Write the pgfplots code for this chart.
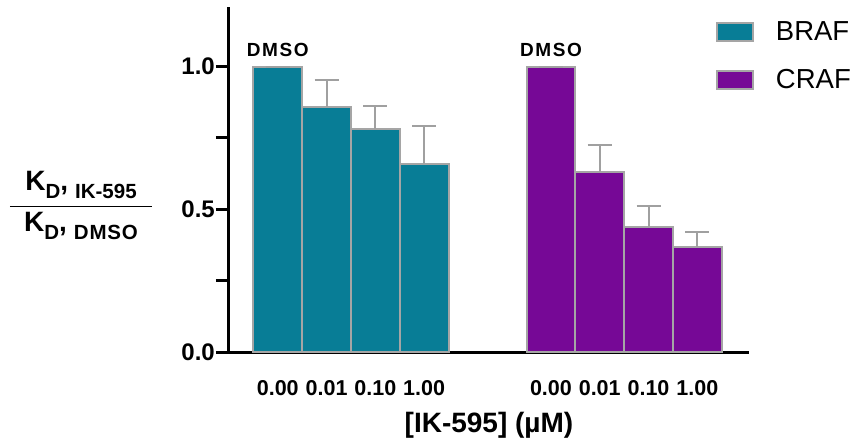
\documentclass[border=0pt]{standalone}
\usepackage{pgfplots}
\pgfplotsset{compat=1.18}
\usepackage{fontspec}
\setmainfont{Liberation Sans}
\definecolor{braf}{RGB}{8,125,150}
\definecolor{craf}{RGB}{118,8,150}
\definecolor{edgegray}{RGB}{165,165,165}
\definecolor{errgray}{RGB}{160,160,160}
\newcommand\bigf{\fontsize{28}{28}\bfseries\selectfont}
\newcommand\subf{\fontsize{20.5}{20.5}\bfseries\selectfont}
\newcommand\sub[1]{\raisebox{-8pt}[0pt][0pt]{\subf #1}}
\newcommand\numer{{\bigf K}\sub{D}{\bigf ,}\sub{\hspace{7pt}IK-595}}
\newcommand\denom{{\bigf K}\sub{D}{\bigf ,}\sub{\hspace{7pt}D\kern0.8pt M\kern0.8pt S\kern0.8pt O}}
\newcommand\dmso{{\fontsize{19}{19}\bfseries\selectfont D\kern1.6pt M\kern1.6pt S\kern1.6pt O}}
\pgfplotstableread{
x y e
0 1.00 0
1 0.86 0.092
2 0.78 0.082
3 0.66 0.133
}\brafdata
\pgfplotstableread{
x y e
5.6 1.00 0
6.6 0.63 0.095
7.6 0.437 0.076
8.6 0.367 0.053
}\crafdata
\begin{document}
\begin{tikzpicture}
\useasboundingbox (-229pt,-87pt) rectangle (624pt,352pt);
\begin{axis}[
  at={(0,0)}, anchor=south west,
  scale only axis, width=520pt, height=345pt,
  xmin=-1, xmax=9.66, ymin=0, ymax=1.209,
  axis x line*=bottom, axis y line*=left,
  axis line style={line width=3pt, black},
  ytick={0,0.5,1}, minor ytick={0.25,0.75},
  tick align=outside,
  major tick length=13pt, minor tick length=13pt,
  ytick style={line width=3pt, black},
  minor tick style={line width=3pt, black},
  xtick style={draw=none},
  yticklabel style={font=\fontsize{24}{24}\bfseries\selectfont, inner sep=1pt,
    /pgf/number format/.cd, fixed, fixed zerofill, precision=1, assume math mode=true},
  xtick={0,1,2,3,5.6,6.6,7.6,8.6},
  xticklabels={0.00,0.01,0.10,1.00,0.00,0.01,0.10,1.00},
  xticklabel style={font=\fontsize{21.5}{21.5}\bfseries\selectfont, anchor=north, inner sep=0pt, yshift=-15pt},
  xlabel={[IK-595] (µM)},
  xlabel style={font=\bigf, at={(axis description cs:0.5,0)}, anchor=base, yshift=-80pt, inner sep=0pt},
  ylabel={\vbox{\offinterlineskip\hsize=142pt
      \hbox to 142pt{\hfil\numer\hfil}\kern11.6pt
      \hrule height 1.3pt\kern5pt
      \hbox to 142pt{\hfil\denom\hfil}}},
  every axis y label/.style={at={(axis description cs:0,0.5)}, anchor=center, xshift=-148pt, yshift=-24pt, inner sep=0pt},
  ybar, bar width=1,
  legend style={at={(axis description cs:0.937,0.957)}, anchor=north west,
    draw=none, fill=none, inner sep=0pt, row sep=27pt,
    font=\fontsize{27.5}{27.5}\selectfont,
    nodes={inner sep=0pt, anchor=west},
    /tikz/every odd column/.append style={column sep=22pt}},
  legend cell align=left,
]
\addplot[bar shift=0pt, fill=braf, draw=edgegray, line width=2pt,
  legend image code/.code={\draw[fill=braf, draw=edgegray, line width=1.5pt] (0pt,-9pt) rectangle (36pt,9pt);},
  error bars/.cd, y dir=plus, y explicit,
  error bar style={line width=2pt, errgray},
  error mark options={errgray, line width=2pt, mark size=12pt, rotate=90}]
  table[x=x, y=y, y error=e] {\brafdata};
\addlegendentry{BRAF}
\addplot[bar shift=0pt, fill=craf, draw=edgegray, line width=2pt,
  legend image code/.code={\draw[fill=craf, draw=edgegray, line width=1.5pt] (0pt,-9pt) rectangle (36pt,9pt);},
  error bars/.cd, y dir=plus, y explicit,
  error bar style={line width=2pt, errgray},
  error mark options={errgray, line width=2pt, mark size=12pt, rotate=90}]
  table[x=x, y=y, y error=e] {\crafdata};
\addlegendentry{CRAF}
\node[anchor=base, inner sep=0pt] at (axis cs:0,1) [yshift=9.7pt] {\dmso};
\node[anchor=base, inner sep=0pt] at (axis cs:5.6,1) [yshift=9.7pt] {\dmso};
\end{axis}
\end{tikzpicture}
\end{document}
